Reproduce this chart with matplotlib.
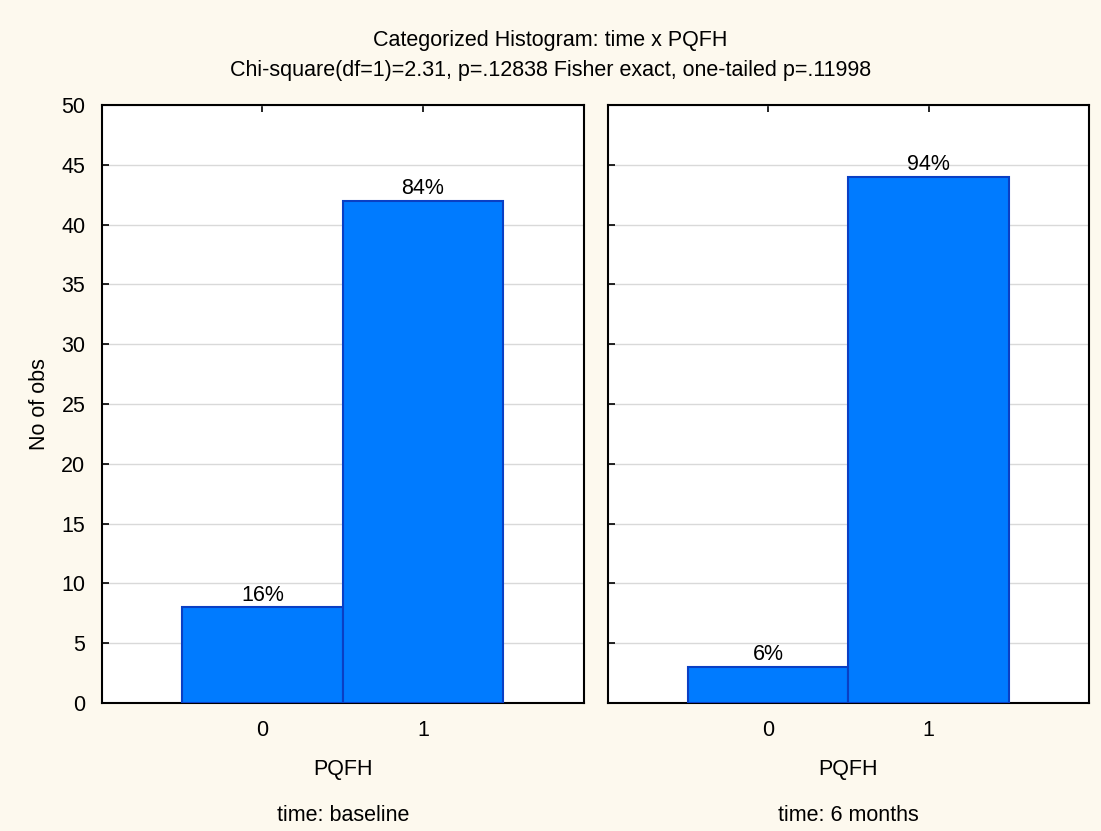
import matplotlib

matplotlib.use("Agg")
import matplotlib.pyplot as plt

plt.rcParams["font.family"] = ["Liberation Sans", "DejaVu Sans"]

categories = [0, 1]
panels = ["time: baseline", "time: 6 months"]
counts = [[8, 42], [3, 44]]
percents = [["16%", "84%"], ["6%", "94%"]]
yticks = [0, 5, 10, 15, 20, 25, 30, 35, 40, 45, 50]

BG = "#fdf9ee"
BAR = "#007bff"
EDGE = "#0a3fc4"
FS = 15.5

fig = plt.figure(figsize=(11.01, 8.31), dpi=100, facecolor=BG)
boxes = [[0.0926, 0.154, 0.4374, 0.7196], [0.5522, 0.154, 0.4368, 0.7196]]

for i, (box, label) in enumerate(zip(boxes, panels)):
    ax = fig.add_axes(box)
    ax.set_facecolor("white")
    ax.bar(categories, counts[i], width=1.0, color=BAR, edgecolor=EDGE,
           linewidth=1.5, zorder=3)
    for x, y, t in zip(categories, counts[i], percents[i]):
        ax.text(x, y + 0.15, t, ha="center", va="bottom", fontsize=FS, zorder=4)
    ax.set_xlim(-1, 2)
    ax.set_ylim(0, 50)
    ax.set_xticks(categories)
    ax.set_yticks(yticks)
    ax.grid(axis="y", color="#d9d9d9", lw=1.0, zorder=0)
    ax.tick_params(direction="in", top=True, length=5, width=1.2,
                   labelsize=FS, pad=12)
    if i == 0:
        ax.set_ylabel("No of obs", fontsize=FS, labelpad=8)
    else:
        ax.tick_params(labelleft=False)
    for s in ax.spines.values():
        s.set_linewidth(1.5)
        s.set_color("black")
    ax.set_xlabel("PQFH", fontsize=FS, labelpad=13)
    cx = box[0] + box[2] / 2
    fig.text(cx, 0.019, label, ha="center", va="center", fontsize=FS)

fig.text(0.5, 0.951, "Categorized Histogram: time x PQFH", ha="center",
         va="center", fontsize=FS)
fig.text(0.5, 0.915,
         "Chi-square(df=1)=2.31, p=.12838 Fisher exact, one-tailed p=.11998",
         ha="center", va="center", fontsize=FS)

fig.savefig("out.png", dpi=100, facecolor=BG)
